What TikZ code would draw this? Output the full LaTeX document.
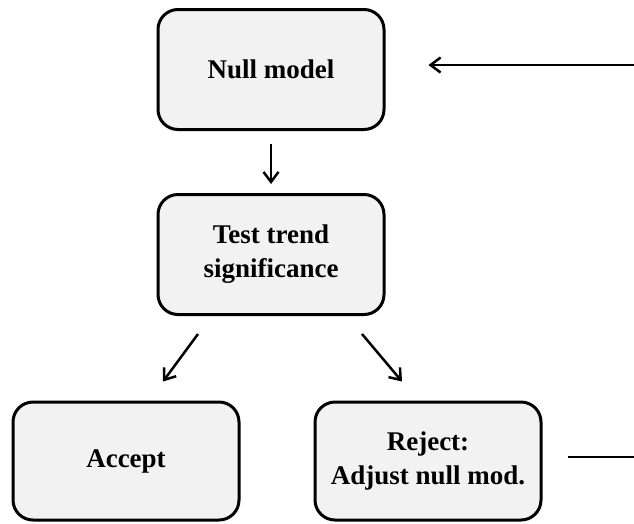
\documentclass[tikz,border=0pt]{standalone}
\usepackage{fontspec}
\setmainfont{Liberation Serif}
\usetikzlibrary{arrows.meta}
\definecolor{boxfill}{HTML}{F2F2F2}
\begin{document}
\begin{tikzpicture}[x=1pt,y=-1pt,
  stepbox/.style={draw=black, line width=3pt, fill=boxfill, rounded corners=20pt,
    minimum width=226pt, minimum height=120pt, align=center, inner sep=0pt,
    font=\fontsize{27}{34}\selectfont\bfseries},
  arr/.style={line width=2.5pt, -{Straight Barb[length=10pt,width=15pt,line width=2.5pt]}},
  ln/.style={line width=2.5pt}]
\useasboundingbox (0,0) rectangle (634,523);
\node[stepbox] (null) at (271,69.5) {Null model};
\node[stepbox] (test) at (271,254.5) {Test trend\\significance};
\node[stepbox, minimum height=118pt] (accept) at (126,461) {Accept};
\node[stepbox, minimum height=118pt] (reject) at (428,461) {Reject:\\Adjust null mod.};
\coordinate (rin) at (634,65);
\coordinate (rout) at (634,457);
\draw[arr] ([yshift=-13pt]null.south) -- ([yshift=9pt]test.north);
\draw[arr] ([xshift=-73pt,yshift=-18pt]test.south) -- ([xshift=37pt,yshift=19pt]accept.north);
\draw[arr] ([xshift=91pt,yshift=-18pt]test.south) -- ([xshift=-26pt,yshift=19pt]reject.north);
\draw[arr] (rin) -- ([xshift=43pt,yshift=4.5pt]null.east);
\draw[ln] ([xshift=25pt,yshift=4pt]reject.east) -- (rout);
\end{tikzpicture}
\end{document}
